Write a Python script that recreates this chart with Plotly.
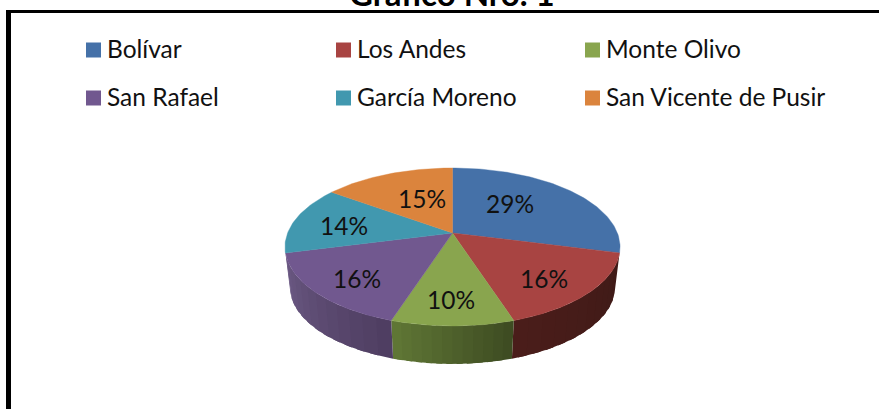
import math
import plotly.graph_objects as go

# ---- data ----
categories = ["Bolívar", "Los Andes", "Monte Olivo", "San Rafael", "García Moreno", "San Vicente de Pusir"]
percentages = [29, 16, 10, 16, 14, 15]
title_text = "Gráfico Nro. 1"

# ---- styles ----
colors = ["#4571a8", "#a84442", "#89a54e", "#71588f", "#4198af", "#db843d"]
wall_shades = {1: ("#4a1d1a", "#3f1a17"), 2: ("#617836", "#3c4a21"), 3: ("#6c5a85", "#4e3d60")}
FONT = "Lato"
W, H = 879, 409

# ---- perspective model of the tilted disc (pixel space of the axes) ----
CX, CY, A, B, K = 452.5, 233, 164.9, 76.5, 0.177
DEPTH, SHRINK = 40.8, 0.97


def rim(deg, lower=False):
    t = math.radians(deg)
    u, v = math.sin(t), math.cos(t)
    w = 1 + K * v
    x, y = A * u / w, -B * v / w
    if lower:
        return CX + SHRINK * x, CY + DEPTH + SHRINK * y
    return CX + x, CY + y


def mix(c1, c2, f):
    a = [int(c1[i:i + 2], 16) for i in (1, 3, 5)]
    b = [int(c2[i:i + 2], 16) for i in (1, 3, 5)]
    return "#" + "".join(f"{round(p + (q - p) * f):02x}" for p, q in zip(a, b))


def poly(xs, ys, color, name, width=0.4):
    return go.Scatter(x=xs, y=ys, mode="lines", fill="toself", fillcolor=color,
                      line=dict(color=color, width=width), hoverinfo="text", text=name,
                      showlegend=False)


fig = go.Figure()
edges = [0]
for p in percentages:
    edges.append(edges[-1] + p * 3.6)

# side walls (front slices only), split into strips for the shading
for i, (start_shade, end_shade) in wall_shades.items():
    a0, a1 = edges[i], edges[i + 1]
    n = 12
    for s in range(n):
        t0 = a0 + (a1 - a0) * s / n
        t1 = a0 + (a1 - a0) * (s + 1) / n
        t2 = min(a1, t1 + (a1 - a0) / n * 0.6)  # slight overlap hides the seams
        sub = [t0 + (t2 - t0) * j / 4 for j in range(5)]
        p = [rim(t) for t in sub] + [rim(t, True) for t in reversed(sub)] + [rim(t0)]
        # angles grow clockwise, so the slice runs right to left on the front
        fig.add_trace(poly([q[0] for q in p], [q[1] for q in p],
                           mix(end_shade, start_shade, (s + 0.5) / n), categories[i], width=0))

# top surface
for i, pct in enumerate(percentages):
    pts = [(CX, CY)]
    steps = max(8, int(pct * 3))
    pts += [rim(edges[i] + (edges[i + 1] - edges[i]) * s / steps) for s in range(steps + 1)]
    pts.append((CX, CY))
    fig.add_trace(poly([q[0] for q in pts], [q[1] for q in pts], colors[i], f"{categories[i]}: {pct}%"))

annotations = []
# legend: square swatch plus real text
swatch_x = [93.5, 343.5, 592.5]
swatch_y = [50, 98]
for i, name in enumerate(categories):
    col, row = i % 3, i // 3
    fig.add_trace(go.Scatter(x=[swatch_x[col]], y=[swatch_y[row]], mode="markers",
                             marker=dict(symbol="square", size=15, color=colors[i]),
                             hoverinfo="text", text=name, showlegend=False))
    annotations.append(dict(x=swatch_x[col] + 11, y=swatch_y[row], text=name, xanchor="left", yanchor="middle",
                            showarrow=False, yshift=1.5, font=dict(family=FONT, size=24.5, color="#111111")))

# percentage labels
label_at = [(510, 204), (544, 279), (451, 300), (357, 279), (344, 226), (422, 199)]
for pct, (lx, ly) in zip(percentages, label_at):
    annotations.append(dict(x=lx, y=ly, text=f"{pct}%", xanchor="center", yanchor="middle",
                            showarrow=False, yshift=1, font=dict(family=FONT, size=24.5, color="#111111")))

# title, cut by the top of the picture
annotations.append(dict(x=452, y=7, text=f"<b>{title_text}</b>", xanchor="center", yanchor="bottom",
                        showarrow=False, yshift=-8, font=dict(family=FONT, size=33, color="#000000")))

shapes = [
    dict(type="rect", xref="x", yref="y", x0=6, x1=11, y0=10, y1=H, fillcolor="#000000", line_width=0),
    dict(type="rect", xref="x", yref="y", x0=6, x1=W, y0=10, y1=13, fillcolor="#000000", line_width=0),
]

fig.update_layout(
    width=W, height=H, margin=dict(l=0, r=0, t=0, b=0),
    paper_bgcolor="white", plot_bgcolor="white", showlegend=False,
    xaxis=dict(range=[0, W], visible=False, fixedrange=True),
    yaxis=dict(range=[H, 0], visible=False, fixedrange=True),
    annotations=annotations, shapes=shapes,
)
fig.write_html("out.html", config=dict(displayModeBar=False),
               post_script="document.body.style.margin='0';document.body.style.overflow='hidden';")
